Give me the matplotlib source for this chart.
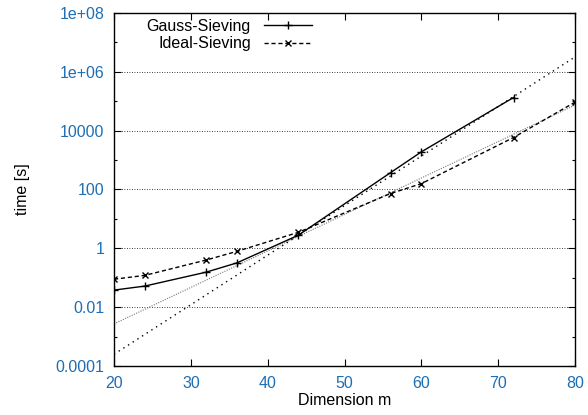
import matplotlib
matplotlib.use("Agg")
import matplotlib.pyplot as plt
from matplotlib.ticker import FixedLocator, FixedFormatter, NullFormatter

plt.rcParams['font.family'] = ['Liberation Sans', 'DejaVu Sans']

# DATA
gauss_dim = [20, 24, 32, 36, 44, 56, 60, 72]
gauss_time = [0.038, 0.052, 0.155, 0.32, 2.8, 375, 1900, 134000]

ideal_dim = [20, 24, 32, 36, 44, 56, 60, 72, 80]
ideal_time = [0.089, 0.12, 0.40, 0.79, 3.5, 73, 158, 5850, 93000]

# fitted trend lines (end points)
fit_dim = [20, 80]
fit_ideal = [0.0027, 74000]
fit_gauss = [0.00025, 3.2e6]

ytick_vals = [1e-4, 1e-2, 1, 1e2, 1e4, 1e6, 1e8]
ytick_labels = ["0.0001", "0.01", "1", "100", "10000", "1e+06", "1e+08"]
yminor_vals = [1e-3, 1e-1, 1e1, 1e3, 1e5, 1e7]
xtick_vals = [20, 30, 40, 50, 60, 70, 80]

blue = "#1e6eb4"

# PLOT
fig = plt.figure(figsize=(5.88, 4.15), dpi=100)
ax = fig.add_axes([0.1939, 0.1181, 0.7840, 0.8506])
ax.set_yscale("log")

for y in ytick_vals[1:-1]:
    ax.axhline(y, color="black", lw=0.6, ls=(0, (1, 2)), zorder=1)

ax.plot(fit_dim, fit_ideal, color="#777777", lw=0.8, ls=(0, (1, 1.2)), zorder=2)
ax.plot(fit_dim, fit_gauss, color="black", lw=1.0, ls=(0, (1, 3)), zorder=2)

ax.plot(gauss_dim, gauss_time, color="black", lw=1.0, marker="+", ms=6, mew=1.0,
        label="Gauss-Sieving", zorder=3)
ax.plot(ideal_dim, ideal_time, color="black", lw=1.0, ls=(0, (3, 2)), marker="x",
        ms=5, mew=1.0, label="Ideal-Sieving", zorder=3)

ax.set_xlim(20, 80)
ax.set_ylim(1e-4, 1e8)

ax.xaxis.set_major_locator(FixedLocator(xtick_vals))
ax.yaxis.set_major_locator(FixedLocator(ytick_vals))
ax.yaxis.set_major_formatter(FixedFormatter(ytick_labels))
ax.yaxis.set_minor_locator(FixedLocator(yminor_vals))
ax.yaxis.set_minor_formatter(NullFormatter())

ax.tick_params(axis="both", which="major", direction="in", length=5, width=0.8,
               top=True, right=True, labelsize=11.5, labelcolor=blue, pad=7)
ax.tick_params(axis="y", which="minor", direction="in", length=2.5, width=0.8,
               right=True)
for s in ax.spines.values():
    s.set_linewidth(1.0)

ax.set_xlabel("Dimension m", fontsize=11.5, labelpad=2)
ax.set_ylabel("time [s]", fontsize=11.5, labelpad=18)

ax.legend(loc="upper left", bbox_to_anchor=(0.05, 1.01), frameon=False,
          markerfirst=False, fontsize=11.5, handlelength=3.0, handletextpad=0.8,
          labelspacing=0.15, borderaxespad=0.2)

fig.savefig("out.png", dpi=100)
